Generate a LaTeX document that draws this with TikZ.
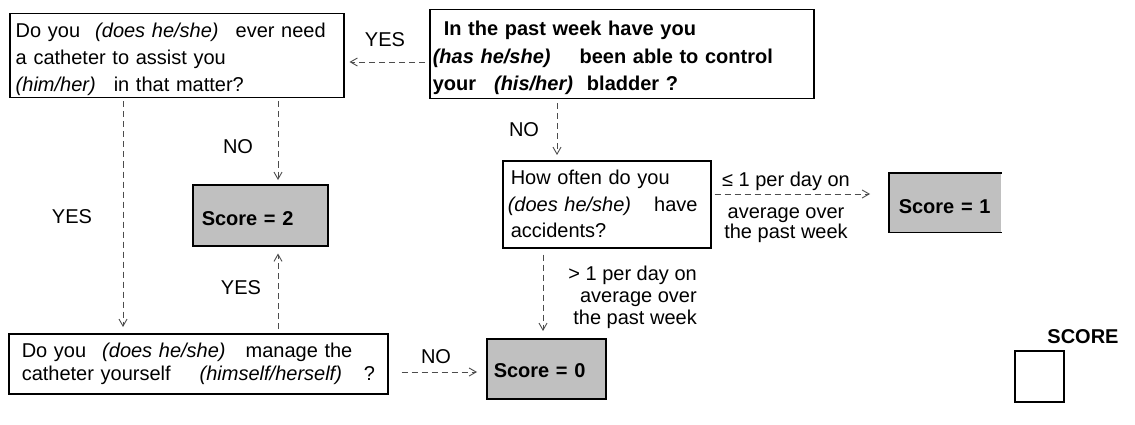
\documentclass[tikz,border=0pt]{standalone}
\usepackage{fontspec}
\setmainfont{Liberation Sans}
\usetikzlibrary{arrows.meta}
\definecolor{scoregray}{HTML}{C0C0C0}
\begin{document}
\begin{tikzpicture}[x=1pt,y=-1pt,
  qbox/.style={draw, line width=1.5pt, anchor=north west, align=left, inner ysep=0pt},
  sbox/.style={fill=scoregray, line width=1.5pt, anchor=north west, align=left, inner ysep=0pt,
    font=\bfseries\fontsize{20}{24}\selectfont},
  flow/.style={dash pattern=on 6pt off 4pt, line width=0.9pt, draw=black!70,
    -{Straight Barb[length=7pt,width=8pt,line width=0.9pt]}},
  lbl/.style={font=\fontsize{20}{22}\selectfont, inner sep=0pt},
]
\useasboundingbox (0,0) rectangle (1135,425);

% question boxes
\node[qbox, text width=322pt, inner xsep=6pt, minimum height=84pt,
  font=\fontsize{20}{27}\selectfont] (qa) at (9,13)
  {\rule{0pt}{21pt}Do you\hspace{15pt}\textit{(does he/she)}\hspace{17pt}ever need\\
   a catheter to assist you\\
   \textit{(him/her)}\hspace{18pt}in that matter?};

\node[qbox, text width=378pt, inner xsep=3pt, minimum height=89pt,
  font=\bfseries\fontsize{20}{27.5}\selectfont] (qb) at (429,9)
  {\rule{0pt}{22.5pt}\hspace*{11pt}In the past week have you\\
   \textit{(has he/she)}\hspace{29pt}been able to control\\
   your\hspace{18pt}\textit{(his/her)}\hspace{14pt}bladder ?};

\node[qbox, text width=192pt, inner xsep=8pt, minimum height=87pt,
  font=\fontsize{20}{26.5}\selectfont] (qd) at (502,160)
  {How often do you\\
   \mbox{\hspace*{-3pt}\textit{(does he/she)}\hspace{23pt}have}\\
   accidents?};

\node[qbox, text width=353pt, inner xsep=13pt, minimum height=60pt,
  font=\fontsize{20}{23}\selectfont] (qc) at (8,333)
  {\mbox{Do you\hspace{16pt}\textit{(does he/she)}\hspace{20pt}manage the}\\
   \mbox{catheter yourself\hspace{29pt}\textit{(himself/herself)}\hspace{22pt}?}};

% score boxes
\node[sbox, draw, text width=117pt, inner xsep=9pt, minimum height=61pt] (s2) at (192,184)
  {\raisebox{-10.7pt}[0pt][0pt]{Score = 2}};
\node[sbox, draw, text width=105pt, inner xsep=7pt, minimum height=60pt] (s0) at (486,338)
  {\raisebox{-9pt}[0pt][0pt]{Score = 0}};
\node[sbox, text width=93pt, inner xsep=9pt, minimum height=58pt] (s1) at (889,173)
  {\raisebox{-11pt}[0pt][0pt]{Score = 1}};
\draw[line width=1.5pt] (s1.north east) -- (s1.north west) -- (s1.south west) -- (s1.south east);

\node[draw, line width=1.5pt, minimum width=49pt, minimum height=51pt, anchor=north west, inner sep=0pt] (sq) at (1014,350) {};
\node[font=\bfseries\fontsize{20}{24}\selectfont, inner sep=0pt] (sl) at (1083,337) {SCORE};

% guide coordinates
\coordinate (xa) at (278,0);
\coordinate (xl) at (123,0);
\coordinate (xb) at (557,0);
\coordinate (xd) at (543,0);
\coordinate (yt) at (0,62);
\coordinate (yd) at (0,194);
\coordinate (yc) at (0,372);

% connectors
\draw[flow, shorten <=4pt, shorten >=5pt] (qb.west |- yt) -- (qa.east |- yt);
\draw[flow, shorten <=3pt, shorten >=4pt] (qa.south -| xa) -- (s2.north -| xa);
\draw[flow, shorten <=3pt, shorten >=6pt] (qa.south -| xl) -- (qc.north -| xl);
\draw[flow, shorten <=4pt, shorten >=7pt] (qc.north -| xa) -- (s2.south -| xa);
\draw[flow, shorten <=4pt, shorten >=5pt] (qb.south -| xb) -- (qd.north -| xb);
\draw[flow, shorten <=3pt, shorten >=19pt] (qd.east |- yd) -- (s1.west |- yd);
\draw[flow, shorten <=6pt, shorten >=7pt] (qd.south -| xd) -- (s0.north -| xd);
\draw[flow, shorten <=13pt, shorten >=9pt] (qc.east |- yc) -- (s0.west |- yc);

% labels
\node[lbl] (l1) at (385,40) {YES};
\node[lbl] (l2) at (238,147) {NO};
\node[lbl] (l3) at (72,217) {YES};
\node[lbl] (l4) at (241,288) {YES};
\node[lbl] (l5) at (524,130) {NO};
\node[lbl] (l6) at (436,357) {NO};
\node[lbl, align=center, font=\fontsize{20}{20}\selectfont] (l7) at (786,207)
  {≤ 1 per day on\\[12pt]average over\\the past week};
\node[lbl, align=right, anchor=east] (l8) at (697,297)
  {> 1 per day on\\average over\\the past week};
\end{tikzpicture}
\end{document}
